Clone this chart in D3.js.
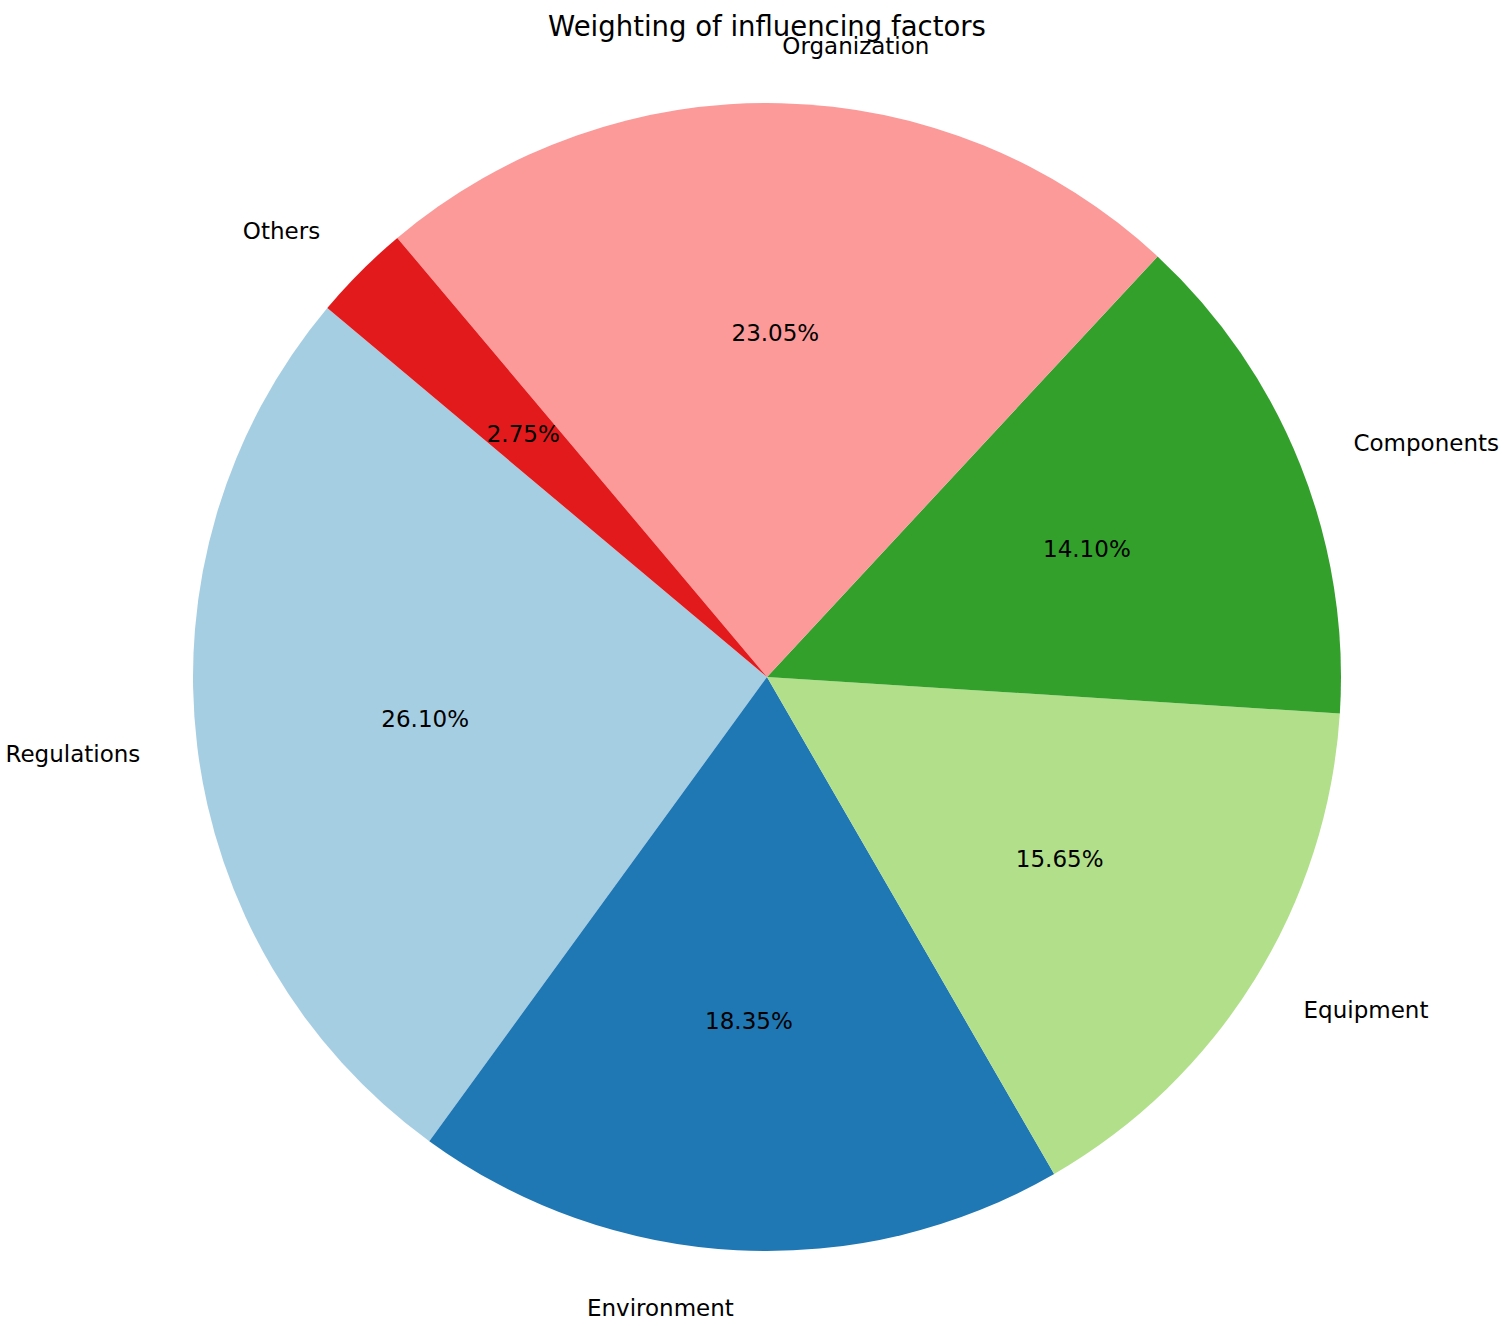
<!DOCTYPE html>
<html lang="en">
<head>
<meta charset="utf-8">
<title>Weighting of influencing factors</title>
<script src="https://d3js.org/d3.v7.min.js"></script>
<style>
  body { margin: 0; background: #fff; }
  text { font-family: "DejaVu Sans", sans-serif; fill: #000; }
</style>
</head>
<body>
<div id="chart"></div>
<script>
// data, in plotting order (counterclockwise from 140deg like matplotlib)
var categories = ["Regulations", "Environment", "Equipment", "Components", "Organization", "Others"];
var weights = [26.10, 18.35, 15.65, 14.10, 23.05, 2.75];
var colors = ["#a6cee3", "#1f78b4", "#b2df8a", "#33a02c", "#fb9a99", "#e31a1c"];

var w = 1507, h = 1326;
var cx = 767, cy = 677, r = 574;
var startDeg = 140; // math angle, ccw from 3 o'clock

var svg = d3.select("#chart").append("svg")
  .attr("width", w).attr("height", h);

var rad = Math.PI / 180;
// d3 angle = 90 - math angle; counterclockwise means decreasing d3 angle
var a0 = (90 - startDeg) * rad;
var pie = d3.pie().sort(null)
  .startAngle(a0)
  .endAngle(a0 - 2 * Math.PI);

var arc = d3.arc().innerRadius(0).outerRadius(r);
var color = d3.scaleOrdinal().domain(categories).range(colors);

var data = categories.map(function(c, i) { return { name: c, value: weights[i] }; });
var arcs = pie.value(function(d) { return d.value; })(data);

var g = svg.append("g").attr("transform", "translate(" + cx + "," + cy + ")");

g.selectAll("path")
  .data(arcs)
  .enter()
  .append("path")
  .attr("d", arc)
  .style("fill", function(d) { return color(d.data.name); });

function midPoint(d, k) {
  var a = (d.startAngle + d.endAngle) / 2;
  return [k * r * Math.sin(a), -k * r * Math.cos(a)];
}

// percentage labels at 0.6 r
g.selectAll(".pct")
  .data(arcs)
  .enter()
  .append("text")
  .attr("class", "pct")
  .attr("x", function(d) { return midPoint(d, 0.6)[0]; })
  .attr("y", function(d) { return midPoint(d, 0.6)[1]; })
  .attr("text-anchor", "middle")
  .attr("dominant-baseline", "central")
  .style("font-size", "23px")
  .text(function(d) { return d.data.value.toFixed(2) + "%"; });

// category labels at 1.1 r
g.selectAll(".lbl")
  .data(arcs)
  .enter()
  .append("text")
  .attr("class", "lbl")
  .attr("x", function(d) { return midPoint(d, 1.1)[0]; })
  .attr("y", function(d) { return midPoint(d, 1.1)[1]; })
  .attr("text-anchor", function(d) { return midPoint(d, 1.1)[0] > 0 ? "start" : "end"; })
  .attr("dominant-baseline", "central")
  .style("font-size", "23px")
  .text(function(d) { return d.data.name; });

// title
svg.append("text")
  .attr("x", cx)
  .attr("y", 36)
  .attr("text-anchor", "middle")
  .style("font-size", "27.5px")
  .text("Weighting of influencing factors");
</script>
</body>
</html>
